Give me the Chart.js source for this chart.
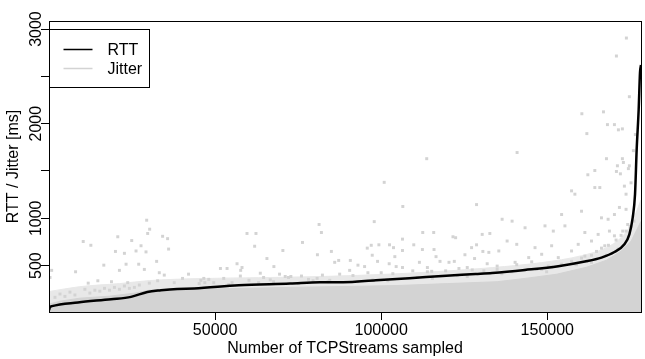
<!DOCTYPE html>
<html>
<head>
<meta charset="utf-8">
<script src="https://cdn.jsdelivr.net/npm/chart.js@4.4.0/dist/chart.umd.min.js"></script>
<style>
html, body { margin: 0; padding: 0; background: #fff; }
#wrap { width: 645px; height: 359px; }
</style>
</head>
<body>
<div id="wrap"><canvas id="rtt_jitter" width="645" height="359"></canvas></div>
<script>
// RTT, sorted ascending over the sampled streams
const rttX = [0, 300, 900, 8700, 18700, 24700, 29600, 33700, 38600, 43700, 57100, 72600, 81500, 88500,
    98400, 108500, 118400, 128400, 133400, 143300, 153300, 161300, 166300, 170200, 173200, 174700,
    175700, 176400, 176900, 177500, 177900, 178200];
const rttY = [30, 61, 72, 111, 145, 170, 222, 240, 254, 258, 293, 311, 325, 325,
    346, 367, 391, 412, 423, 455, 494, 543, 585, 644, 726, 831,
    1007, 1253, 1728, 2150, 2540, 2620];

// upper edge of the solid part of the jitter cloud
const bandX = [0, 3300, 9300, 18200, 25700, 30200, 36200, 45200, 60100, 75100, 90000, 105000,
    119900, 134900, 143800, 152800, 161800, 167800, 172200, 175200, 176700, 178200];
const bandY = [93, 124, 156, 177, 209, 240, 251, 251, 261, 272, 280, 290,
    310, 330, 367, 409, 483, 557, 652, 757, 863, 968];

// upper edge of the speckled part of the jitter cloud
const spreadX = [0, 9300, 21200, 30200, 45200, 63100, 81000, 99000, 116900, 133400, 148300,
    160300, 167800, 172200, 175200, 178200];
const spreadY = [226, 278, 310, 342, 363, 373, 384, 405, 437, 479, 532,
    605, 690, 795, 933, 1196];

// single jitter samples above the cloud
const jitterPoints = [
    [173800, 2905], [170800, 2715], [174700, 2285], [166900, 2125], [160400, 2105], [168100, 1990],
    [170200, 1990], [171400, 1935], [172600, 1945], [176500, 1885], [161900, 1895], [140900, 1695],
    [175900, 1715], [167800, 1630], [172600, 1630], [172900, 1590], [171100, 1555], [174700, 1555],
    [174400, 1525], [164300, 1505], [162200, 1460], [170800, 1495], [172000, 1470], [113700, 1630],
    [100900, 1380], [106500, 1125], [128700, 1145], [97900, 965], [106400, 780], [112500, 850],
    [115800, 850], [121600, 805], [122400, 795], [130400, 830], [132700, 840], [95800, 685],
    [97000, 715], [99300, 720], [102500, 720], [103700, 690], [109800, 720], [106400, 660],
    [112400, 670], [115900, 670], [127200, 690], [128700, 720], [130600, 650], [132400, 640],
    [97300, 610], [104100, 595], [116500, 595], [125200, 615], [128100, 575], [90700, 555],
    [98900, 545], [102400, 520], [111500, 535], [117700, 545], [120400, 535], [122000, 545],
    [131900, 520], [93000, 505], [95000, 490], [104500, 490], [106400, 480], [113900, 480],
    [123400, 470], [90500, 450], [96000, 425], [100000, 425], [109500, 445], [115200, 440],
    [119400, 445], [127400, 455], [130900, 445],
    [81300, 935], [82000, 850], [59600, 840], [62300, 840], [76300, 745], [61900, 705],
    [70400, 660], [80800, 615], [85000, 650], [65600, 575], [56600, 520], [67700, 490],
    [86000, 535], [87200, 555], [51600, 470], [53600, 470], [58100, 480], [57700, 450],
    [63600, 420], [69400, 410], [71100, 385], [72800, 385], [52600, 365], [57600, 390],
    [60200, 345], [66600, 350], [76000, 390], [78100, 355], [80700, 365], [82300, 400],
    [84500, 345], [87500, 410], [45700, 345], [48100, 355], [46900, 320], [55100, 320],
    [29400, 980], [30300, 885], [20700, 805], [10300, 755], [12600, 715], [24900, 765],
    [34200, 810], [35700, 785], [27700, 710], [29700, 840], [20000, 650], [22700, 630],
    [26200, 655], [29200, 645], [36000, 675], [16500, 505], [23200, 515], [27000, 515],
    [32400, 545], [8000, 435], [800, 450], [21200, 450], [28700, 460], [33200, 425],
    [34700, 400], [42000, 410], [40200, 365], [300, 375], [11800, 315], [14700, 340],
    [18800, 330], [23700, 320], [32700, 340], [37700, 320],
    [1800, 165], [3300, 200], [4800, 175], [6300, 220], [7800, 190], [10800, 250],
    [12300, 210], [13800, 240], [15300, 230], [16700, 260], [18200, 240], [19700, 270],
    [21200, 250], [22700, 285], [24200, 260], [25700, 270], [27200, 295], [30200, 315],
    [136400, 990], [139400, 970], [143300, 900], [137900, 760], [135400, 655], [140800, 725],
    [146300, 690], [149300, 920], [151800, 865], [154300, 1040], [155300, 920], [157300, 1290],
    [158300, 1255], [160300, 1075], [161300, 850], [164300, 1325], [165800, 1325], [166300, 1005],
    [168300, 990], [170200, 1040], [171700, 1115], [173700, 1095], [173200, 1340], [151300, 710],
    [157300, 655], [159300, 725], [163300, 760], [165300, 830], [168700, 865], [148300, 620],
    [144400, 585], [153300, 585], [140300, 535], [134900, 495], [161300, 600], [167300, 710],
    [170200, 815], [172700, 865], [174200, 935], [173700, 1255], [175200, 1375], [158300, 515],
    [163300, 535], [150300, 495], [143300, 460],
    [157300, 545], [160300, 580], [163300, 610], [164800, 650], [166300, 685], [168400, 715],
    [170700, 770], [172200, 820], [173700, 865], [174900, 915], [176100, 970], [154300, 515],
    [151300, 485], [148300, 460], [161800, 545], [167800, 610], [171300, 675],
    [45200, 310], [49600, 320], [54100, 300], [63100, 320], [67600, 330], [75100, 310],
    [79500, 340], [84000, 330], [93000, 330], [97500, 350], [102000, 340], [110900, 375],
    [115400, 365], [122900, 395], [125900, 385], [136300, 415], [139300, 435], [146800, 460],
    [149800, 435], [158800, 510], [46600, 365], [64600, 375], [72100, 375], [91500, 395],
    [103500, 415], [113900, 435], [125900, 480], [134900, 460], [140800, 510], [145300, 540]
];

const xTicks = [50000, 100000, 150000];
const yTicks = [500, 1000, 1500, 2000, 2500, 3000];
const yTickLabels = ['500', '1000', '', '2000', '', '3000'];
const legendLabels = ['RTT', 'Jitter'];

const FONT = '"Liberation Sans", Arial, Helvetica, sans-serif';
const GRAY = 'rgb(211, 211, 211)';
const LIGHT_GRAY = 'rgb(232, 232, 232)';

// box, rotated y labels and legend the way R draws them
const rPlotExtras = {
    id: 'rPlotExtras',
    afterDraw(chart) {
        const ctx = chart.ctx;
        const area = chart.chartArea;
        const xs = chart.scales.x;
        const ys = chart.scales.y;
        ctx.save();
        ctx.strokeStyle = '#000';
        ctx.lineWidth = 1;
        ctx.strokeRect(area.left + 0.5, area.top + 0.5, area.right - area.left, area.bottom - area.top);

        ctx.fillStyle = '#000';
        ctx.font = '16px ' + FONT;
        ctx.textAlign = 'center';
        ctx.textBaseline = 'alphabetic';
        yTicks.forEach((v, i) => {
            if (!yTickLabels[i]) return;
            ctx.save();
            ctx.translate(area.left - 8, ys.getPixelForValue(v));
            ctx.rotate(-Math.PI / 2);
            ctx.fillText(yTickLabels[i], 0, 0);
            ctx.restore();
        });

        const lx = Math.round(xs.getPixelForValue(0)) + 0.5;
        const ly = Math.round(ys.getPixelForValue(3000)) + 0.5;
        ctx.fillStyle = '#fff';
        ctx.fillRect(lx, ly, 100, 58);
        ctx.strokeRect(lx, ly, 100, 58);
        const colors = ['#000', GRAY];
        legendLabels.forEach((label, i) => {
            const y = ly + 20 + i * 19;
            ctx.strokeStyle = colors[i];
            ctx.lineWidth = 1.5;
            ctx.beginPath();
            ctx.moveTo(lx + 14, y);
            ctx.lineTo(lx + 43, y);
            ctx.stroke();
            ctx.fillStyle = '#000';
            ctx.textAlign = 'left';
            ctx.textBaseline = 'middle';
            ctx.fillText(label, lx + 58, y + 1);
        });
        ctx.restore();
    }
};

const rtt_jitter = document.getElementById('rtt_jitter').getContext('2d');
new Chart(rtt_jitter, {
    type: 'scatter',
    data: {
        datasets: [{
            type: 'line',
            label: 'RTT',
            data: rttX.map((x, i) => ({ x: x, y: rttY[i] })),
            borderColor: '#000',
            borderWidth: 2.5,
            pointRadius: 0,
            fill: false,
            cubicInterpolationMode: 'monotone'
        }, {
            label: 'Jitter',
            data: jitterPoints.map(p => ({ x: p[0], y: p[1] })),
            backgroundColor: GRAY,
            borderWidth: 0,
            pointStyle: 'rect',
            pointRadius: 2.1
        }, {
            type: 'line',
            label: 'Jitter cloud',
            data: bandX.map((x, i) => ({ x: x, y: bandY[i] })),
            borderColor: GRAY,
            borderWidth: 1,
            backgroundColor: GRAY,
            pointRadius: 0,
            fill: 'start'
        }, {
            type: 'line',
            label: 'Jitter spread',
            data: spreadX.map((x, i) => ({ x: x, y: spreadY[i] })),
            borderColor: LIGHT_GRAY,
            borderWidth: 1,
            backgroundColor: LIGHT_GRAY,
            pointRadius: 0,
            fill: 'start',
            cubicInterpolationMode: 'monotone'
        }]
    },
    options: {
        responsive: false,
        animation: false,
        layout: {
            padding: { top: 21, right: 0, bottom: 0, left: 0 }
        },
        plugins: {
            legend: { display: false },
            tooltip: { enabled: false }
        },
        scales: {
            x: {
                type: 'linear',
                min: 0,
                max: 178200,
                afterBuildTicks: s => { s.ticks = xTicks.map(v => ({ value: v })); },
                afterFit: s => { s.height = 47; },
                border: { display: false },
                grid: { drawOnChartArea: false, color: '#000', tickColor: '#000', tickLength: 8 },
                ticks: {
                    color: '#000',
                    padding: 1,
                    maxRotation: 0,
                    font: { family: FONT, size: 16 },
                    callback: v => String(v)
                },
                title: {
                    display: true,
                    text: 'Number of TCPStreams sampled',
                    color: '#000',
                    font: { family: FONT, size: 16 },
                    padding: { top: 0, bottom: 1 }
                }
            },
            y: {
                type: 'linear',
                min: 10,
                max: 3085,
                afterBuildTicks: s => { s.ticks = yTicks.map(v => ({ value: v })); },
                afterFit: s => { s.width = 49; },
                border: { display: false },
                grid: { drawOnChartArea: false, color: '#000', tickColor: '#000', tickLength: 8 },
                ticks: { display: false },
                title: {
                    display: true,
                    text: 'RTT / Jitter [ms]',
                    color: '#000',
                    font: { family: FONT, size: 16 },
                    padding: { top: 4, bottom: 0 }
                }
            }
        }
    },
    plugins: [rPlotExtras]
});
</script>
</body>
</html>
